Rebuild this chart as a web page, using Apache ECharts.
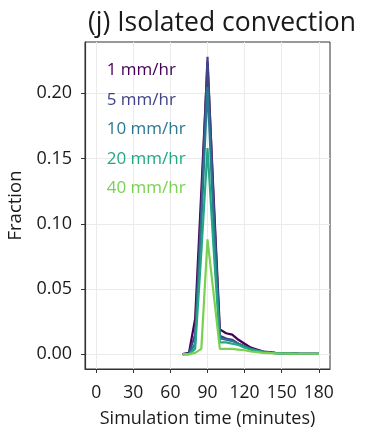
<!DOCTYPE html>
<html>
<head>
<meta charset="utf-8">
<script src="https://cdn.jsdelivr.net/npm/echarts@6/dist/echarts.min.js"></script>
<style>
html,body{margin:0;padding:0;background:#fff;}
#chart{width:365px;height:427px;}
</style>
</head>
<body>
<div id="chart"></div>
<script>
const titleText = "(j) Isolated convection";
const xLabel = "Simulation time (minutes)";
const yLabel = "Fraction";
const xTicks = [0, 30, 60, 90, 120, 150, 180];
const yTicks = [0, 0.05, 0.10, 0.15, 0.20];
const times = [70,75,80,85,90,95,100,105,110,115,120,125,130,135,140,145,150,155,160,165,170,175,180];
const seriesNames = ["1 mm/hr", "5 mm/hr", "10 mm/hr", "20 mm/hr", "40 mm/hr"];
const seriesColors = ["#440154", "#414487", "#2A788E", "#22A884", "#7AD151"];
const r1  = [0, 0.001, 0.027, 0.125, 0.224, 0.120, 0.019, 0.016, 0.015, 0.011, 0.008, 0.005, 0.0035, 0.002, 0.0015, 0.001, 0.0007, 0.0005, 0.0004, 0.0003, 0.0003, 0.0003, 0.0003];
const r5  = [0, 0.0005, 0.015, 0.112, 0.228, 0.115, 0.014, 0.012, 0.011, 0.008, 0.006, 0.004, 0.003, 0.002, 0.0012, 0.0008, 0.0006, 0.0005, 0.0004, 0.0003, 0.0003, 0.0003, 0.0003];
const r10 = [0, 0, 0.008, 0.100, 0.205, 0.100, 0.012, 0.011, 0.010, 0.008, 0.006, 0.004, 0.0028, 0.0018, 0.0012, 0.0008, 0.0006, 0.0005, 0.0004, 0.0003, 0.0003, 0.0003, 0.0003];
const r20 = [0, 0, 0.004, 0.078, 0.158, 0.080, 0.009, 0.009, 0.008, 0.007, 0.005, 0.0035, 0.0025, 0.0016, 0.0011, 0.0008, 0.0006, 0.0005, 0.0004, 0.0003, 0.0003, 0.0003, 0.0003];
const r40 = [0, 0, 0.001, 0.004, 0.088, 0.046, 0.004, 0.004, 0.004, 0.0035, 0.003, 0.002, 0.0015, 0.001, 0.0008, 0.0006, 0.0005, 0.0004, 0.0003, 0.0003, 0.0003, 0.0003, 0.0003];
const allValues = [r1, r5, r10, r20, r40];

const FONT = "Open Sans";
const chart = echarts.init(document.getElementById('chart'), null, {renderer: 'canvas'});

const series = allValues.map((vals, i) => ({
  name: seriesNames[i],
  type: 'line',
  data: times.map((t, j) => [t, vals[j]]),
  showSymbol: false,
  symbol: 'none',
  lineStyle: {color: seriesColors[i], width: 2.2},
  itemStyle: {color: seriesColors[i]},
  z: 2 + i,
  animation: false
}));

chart.setOption({
  animation: false,
  backgroundColor: '#ffffff',
  title: {
    text: titleText,
    left: 83,
    top: 5,
    textStyle: {fontFamily: FONT, fontSize: 26.5, fontWeight: 'normal', color: '#1a1a1a'}
  },
  legend: {
    orient: 'vertical',
    left: 96.7,
    top: 55.5,
    itemWidth: 0,
    itemHeight: 0,
    itemGap: 9.5,
    selectedMode: false,
    data: seriesNames.map((n, i) => ({
      name: n,
      icon: 'rect',
      textStyle: {color: seriesColors[i], fontFamily: FONT, fontSize: 17, lineHeight: 20}
    }))
  },
  grid: {
    left: 85, right: 35, top: 42, bottom: 58,
    outerBoundsMode: 'none',
    containLabel: false,
    show: true, borderColor: '#333', borderWidth: 1, backgroundColor: 'transparent'
  },
  xAxis: {
    type: 'value',
    min: -9, max: 189,
    name: xLabel,
    nameLocation: 'middle',
    nameGap: 41,
    nameTextStyle: {fontFamily: FONT, fontSize: 18, color: '#1a1a1a'},
    axisLine: {show: true, onZero: false, lineStyle: {color: '#333', width: 1.2}},
    axisTick: {show: true, customValues: xTicks, length: 4, lineStyle: {color: '#333'}},
    axisLabel: {customValues: xTicks, fontFamily: FONT, fontSize: 17.5, color: '#1a1a1a', margin: 15},
    splitLine: {show: true, lineStyle: {color: '#ebebeb', width: 1}}
  },
  yAxis: {
    type: 'value',
    min: -0.0114, max: 0.2394,
    name: yLabel,
    nameLocation: 'middle',
    nameGap: 57,
    nameTextStyle: {fontFamily: FONT, fontSize: 18.5, color: '#1a1a1a'},
    axisLine: {show: true, onZero: false, lineStyle: {color: '#333', width: 1.2}},
    axisTick: {show: true, customValues: yTicks, length: 4, lineStyle: {color: '#333'}},
    axisLabel: {customValues: yTicks, fontFamily: FONT, fontSize: 18, color: '#1a1a1a', margin: 13,
      formatter: v => v.toFixed(2)},
    splitLine: {show: true, lineStyle: {color: '#ebebeb', width: 1}}
  },
  series: series
});
</script>
</body>
</html>
